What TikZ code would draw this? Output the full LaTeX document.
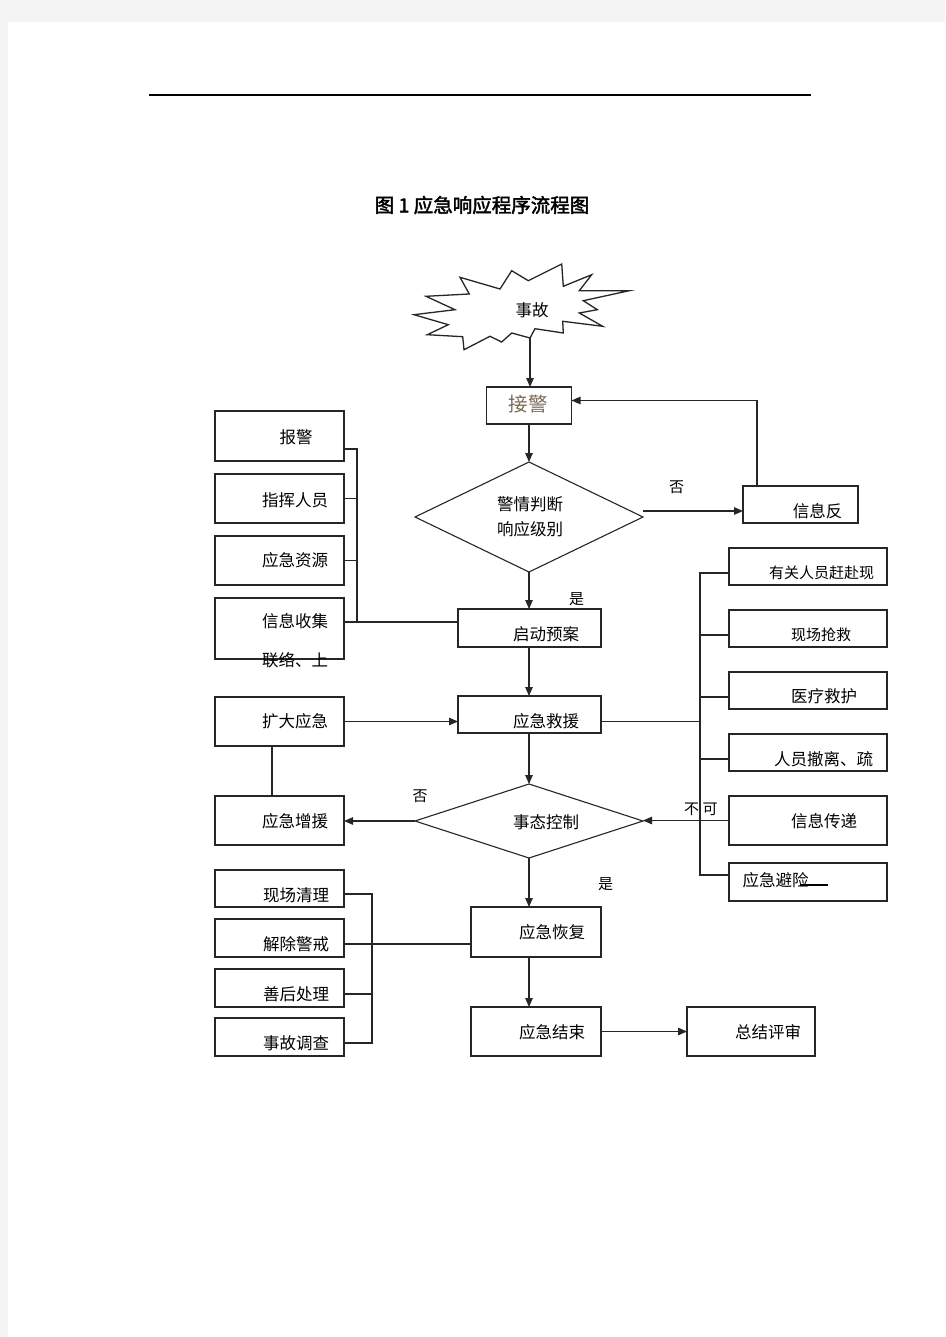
\documentclass[tikz,border=0pt]{standalone}
\usepackage{fontspec}
\newfontfamily\cjk{Noto Sans CJK SC}
\newfontfamily\cjkB[FakeBold=2]{Noto Sans CJK SC}
\usetikzlibrary{arrows.meta,shapes.geometric,calc}
\definecolor{pagegray}{RGB}{244,244,244}
\definecolor{jjcolor}{RGB}{125,105,85}
\begin{document}
\begin{tikzpicture}[x=1pt,y=-1pt,
  box/.style={draw=black!85,line width=1.1pt,rectangle,inner sep=0pt,outer sep=0pt},
  dia/.style={draw=black!85,line width=1.1pt,diamond,inner sep=0pt,outer sep=0pt},
  txt/.style={font=\cjk\fontsize{16.5}{18}\selectfont,inner sep=0pt},
  stxt/.style={font=\cjk\fontsize{15}{17}\selectfont,inner sep=0pt},
  con/.style={line width=1.1pt,draw=black!85},
  arr/.style={con,-{Triangle[length=9pt,width=7.5pt]}},
  thickedge/.style={line width=1.9pt,draw=black!85},
]
\useasboundingbox (0,0) rectangle (945,1337);
\fill[pagegray] (0,0) rectangle (945,1337);
\fill[white] (8,22) rectangle (945,1337);

% header rule and title
\draw[line width=1.2pt] (149,95) -- (811,95);
\node[font=\cjkB\fontsize{19.5}{21}\selectfont,inner sep=0pt] (title) at (482,205) {图\ 1\ 应急响应程序流程图};

% starburst
\draw[line width=1.3pt,draw=black!85,fill=white]
 (414,314.7) -- (455,309.7) -- (426,296.3) -- (469.3,294) -- (460,277.3) -- (500,289) -- (511.7,270.7) -- (528.3,280.7) -- (561.7,264) -- (563.3,286.3) -- (591.7,274.7) -- (579.3,290.7) -- (629.3,290.7) -- (583.3,300.7) -- (597.3,309.7) -- (579.3,313) -- (602.7,326.3) -- (562.7,321.3) -- (563.3,333) -- (535,328.7) -- (530,338) -- (511.7,333) -- (501.7,342) -- (490,336.3) -- (464,349.7) -- (462.7,336.7) -- (427.3,334.7) -- (448.3,324.7) -- cycle;
\coordinate (sbb) at (530,338);
\node[font=\cjk\fontsize{16.5}{18}\selectfont,inner sep=0pt] (tsg) at (532,310) {事故};

% main column boxes
\node[box,minimum width=85pt,minimum height=37pt] (jj) at (529,405.5) {};
\node[dia,minimum width=228pt,minimum height=110pt] (d1) at (529,517) {};
\node[box,minimum width=115pt,minimum height=37pt] (xxf) at (800.5,504.5) {};
\node[box,minimum width=143pt,minimum height=38pt] (qdya) at (529.5,628) {};
\node[box,minimum width=143pt,minimum height=37pt] (yjjy) at (529.5,714.5) {};
\node[dia,minimum width=228pt,minimum height=74pt] (d2) at (529,821) {};
\node[box,minimum width=130pt,minimum height=50pt] (yjhf) at (536,932) {};
\node[box,minimum width=130pt,minimum height=49pt] (yjjs) at (536,1031.5) {};
\node[box,minimum width=128pt,minimum height=49pt] (zjps) at (751,1031.5) {};

% left boxes
\node[box,minimum width=129pt,minimum height=50pt] (bj) at (279.5,436) {};
\node[box,minimum width=129pt,minimum height=49pt] (zhry) at (279.5,498.5) {};
\node[box,minimum width=129pt,minimum height=49pt] (yjzy) at (279.5,560.5) {};
\node[box,minimum width=129pt,minimum height=61pt] (xxsj) at (279.5,628.5) {};
\node[box,minimum width=129pt,minimum height=49pt] (kdyj) at (279.5,721.5) {};
\node[box,minimum width=129pt,minimum height=49pt] (yjzyuan) at (279.5,820.5) {};
\node[box,minimum width=129pt,minimum height=37pt] (xcql) at (279.5,888.5) {};
\node[box,minimum width=129pt,minimum height=38pt] (jcjj) at (279.5,938) {};
\node[box,minimum width=129pt,minimum height=38pt] (shcl) at (279.5,988) {};
\node[box,minimum width=129pt,minimum height=38pt] (sgdc) at (279.5,1037) {};

% right boxes
\node[box,minimum width=158pt,minimum height=37pt] (r1) at (808,566.5) {};
\node[box,minimum width=158pt,minimum height=37pt] (r2) at (808,628.5) {};
\node[box,minimum width=158pt,minimum height=37pt] (r3) at (808,690.5) {};
\node[box,minimum width=158pt,minimum height=37pt] (r4) at (808,752.5) {};
\node[box,minimum width=158pt,minimum height=49pt] (r5) at (808,820.5) {};
\node[box,minimum width=158pt,minimum height=38pt] (r6) at (808,882) {};

% heavier edges seen in the reference
\draw[thickedge] (zhry.south west) -- (zhry.south east);
\draw[thickedge] (r2.south west) -- (r2.south east);
\draw[thickedge] (r4.south west) -- (r4.south east);
\draw[thickedge] (sgdc.north west) -- (sgdc.north east);
\draw[thickedge] (xxf.north east) -- (xxf.south east);

% texts
\node[txt,text=jjcolor,font=\cjk\fontsize{19.5}{21}\selectfont] (tjj) at (528,404.5) {接警};
\node[txt] (td1a) at (530,504) {警情判断};
\node[txt] (td1b) at (530,529) {响应级别};
\node[txt] (txxf) at (817.5,511) {信息反};
\node[txt] (tqdya) at (546,634) {启动预案};
\node[txt] (tyjjy) at (546,721) {应急救援};
\node[txt] (td2) at (546,822) {事态控制};
\node[txt] (tyjhf) at (552,932) {应急恢复};
\node[txt] (tyjjs) at (552,1032) {应急结束};
\node[txt] (tzjps) at (768,1032) {总结评审};

\node[txt] (tbj) at (296,437) {报警};
\node[txt] (tzhry) at (295,500) {指挥人员};
\node[txt] (tyjzy) at (295,560) {应急资源};
\node[txt] (txxsj) at (295,621) {信息收集};
\node[txt] (tllsh) at (295,660) {联络、上};
\node[txt] (tkdyj) at (295,721) {扩大应急};
\node[txt] (tyjzyuan) at (295,821) {应急增援};
\node[txt] (txcql) at (296,895) {现场清理};
\node[txt] (tjcjj) at (296,944) {解除警戒};
\node[txt] (tshcl) at (296,994) {善后处理};
\node[txt] (tsgdc) at (296,1043) {事故调查};

\node[stxt] (tr1) at (821.7,573) {有关人员赶赴现};
\node[stxt] (tr2) at (821,635) {现场抢救};
\node[txt] (tr3) at (824,696.5) {医疗救护};
\node[txt] (tr4) at (823.5,759) {人员撤离、疏};
\node[txt] (tr5) at (824,821) {信息传递};
\node[txt] (tr6) at (775.5,880) {应急避险};
\draw[line width=1.6pt] ([xshift=71pt,yshift=-3pt]r6.west) -- ++(28,0);

% labels
\node[stxt] (no1) at (676.5,487) {否};
\node[stxt] (yes1) at (576.5,599) {是};
\node[stxt] (no2) at (420,796) {否};
\node[stxt] (yes2) at (605.5,884) {是};
\node[stxt] (bu) at (691.5,809) {不};
\node[stxt] (ke) at (710,809) {可};

% main flow connectors
\draw[arr] (sbb) -- (sbb |- jj.north);
\draw[arr] (jj.south) -- (d1.north);
\draw[arr] ([yshift=6pt]d1.east) -- ([yshift=6pt]d1.east -| xxf.west);
\draw[arr] ([xshift=14pt]xxf.north west) |- ([yshift=5pt]jj.east);
\draw[arr] (d1.south) -- (d1.south |- qdya.north);
\draw[arr] (qdya.south -| d1.south) -- (d1.south |- yjjy.north);
\draw[arr] (yjjy.south -| d1.south) -- (d2.north);
\draw[arr] (d2.south) -- (d2.south |- yjhf.north);
\draw[arr] (yjhf.south -| d2.south) -- (d2.south |- yjjs.north);
\draw[arr] (yjjs.east) -- (zjps.west);

% left top group
\coordinate (lbus) at (357,622);
\draw[con] ([yshift=-13pt]bj.east) -| (lbus);
\draw[con] (zhry.east) -- (zhry.east -| lbus);
\draw[con] (yjzy.east) -- (yjzy.east -| lbus);
\draw[con] ([yshift=6.5pt]xxsj.east) -- ([yshift=6.5pt]xxsj.east -| qdya.west);

% expansion
\draw[arr] (kdyj.east) -- (kdyj.east -| yjjy.west);
\draw[con] ([xshift=-7.5pt]kdyj.south) -- ([xshift=-7.5pt]kdyj.south |- yjzyuan.north);
\draw[arr] (d2.west) -- (d2.west -| yjzyuan.east);

% right group
\coordinate (rbus) at (700,0);
\coordinate (r6t) at ([yshift=7pt]r6.west);
\draw[con] ([yshift=-7pt]yjjy.east) -- ([yshift=-7pt]yjjy.east -| rbus);
\draw[con] ([yshift=-6.5pt]r1.west) -| (r6t -| rbus) -- (r6t);
\draw[con] ([yshift=-6.5pt]r2.west) -- ([yshift=-6.5pt]r2.west -| rbus);
\draw[con] ([yshift=-6.5pt]r3.west) -- ([yshift=-6.5pt]r3.west -| rbus);
\draw[con] ([yshift=-6.5pt]r4.west) -- ([yshift=-6.5pt]r4.west -| rbus);
\draw[arr] (r5.west) -- (r5.west -| d2.east);

% recovery group
\coordinate (lbus2) at (372,0);
\draw[con] ([yshift=-5.5pt]xcql.east) -| ([yshift=-6pt]sgdc.east -| lbus2) -- ([yshift=-6pt]sgdc.east);
\draw[con] ([yshift=-6pt]jcjj.east) -- ([yshift=-12pt]yjhf.west);
\draw[con] ([yshift=-6pt]shcl.east) -- ([yshift=-6pt]shcl.east -| lbus2);
\end{tikzpicture}
\end{document}
